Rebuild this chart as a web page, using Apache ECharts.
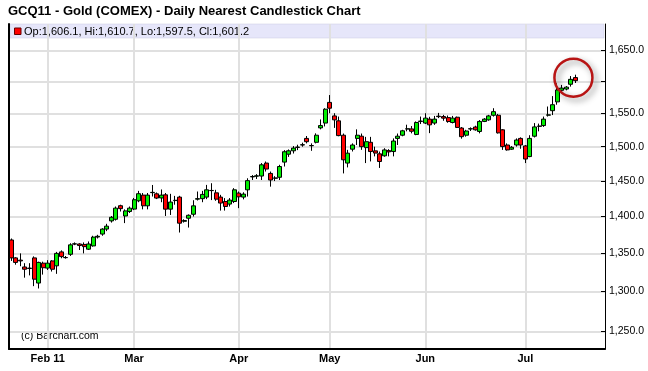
<!DOCTYPE html>
<html><head><meta charset="utf-8">
<script src="https://cdn.jsdelivr.net/npm/echarts@6/dist/echarts.min.js"></script>
<style>html,body{margin:0;padding:0;background:#fff}#c{width:648px;height:371px}</style>
</head><body><div id="c"></div>
<script>
const chartTitle = 'GCQ11 - Gold (COMEX) - Daily Nearest Candlestick Chart';
const credit = '(c) Barchart.com';
const dates = [
'2011-01-20','2011-01-21','2011-01-24','2011-01-25','2011-01-26','2011-01-27','2011-01-28','2011-01-31',
'2011-02-01','2011-02-02','2011-02-03','2011-02-04','2011-02-07','2011-02-08','2011-02-09','2011-02-10','2011-02-11','2011-02-14','2011-02-15','2011-02-16','2011-02-17','2011-02-18','2011-02-22','2011-02-23','2011-02-24','2011-02-25','2011-02-28',
'2011-03-01','2011-03-02','2011-03-03','2011-03-04','2011-03-07','2011-03-08','2011-03-09','2011-03-10','2011-03-11','2011-03-14','2011-03-15','2011-03-16','2011-03-17','2011-03-18','2011-03-21','2011-03-22','2011-03-23','2011-03-24','2011-03-25','2011-03-28','2011-03-29','2011-03-30','2011-03-31',
'2011-04-01','2011-04-04','2011-04-05','2011-04-06','2011-04-07','2011-04-08','2011-04-11','2011-04-12','2011-04-13','2011-04-14','2011-04-15','2011-04-18','2011-04-19','2011-04-20','2011-04-21','2011-04-25','2011-04-26','2011-04-27','2011-04-28','2011-04-29',
'2011-05-02','2011-05-03','2011-05-04','2011-05-05','2011-05-06','2011-05-09','2011-05-10','2011-05-11','2011-05-12','2011-05-13','2011-05-16','2011-05-17','2011-05-18','2011-05-19','2011-05-20','2011-05-23','2011-05-24','2011-05-25','2011-05-26','2011-05-27','2011-05-31',
'2011-06-01','2011-06-02','2011-06-03','2011-06-06','2011-06-07','2011-06-08','2011-06-09','2011-06-10','2011-06-13','2011-06-14','2011-06-15','2011-06-16','2011-06-17','2011-06-20','2011-06-21','2011-06-22','2011-06-23','2011-06-24','2011-06-27','2011-06-28','2011-06-29','2011-06-30',
'2011-07-01','2011-07-05','2011-07-06','2011-07-07','2011-07-08','2011-07-11','2011-07-12','2011-07-13','2011-07-14','2011-07-15','2011-07-18','2011-07-19',
'2011-07-20','2011-07-21','2011-07-22','2011-07-25','2011-07-26','2011-07-27'
];
const opens = [1368,1344,1341,1332,1330.5,1344,1311,1337,1330.5,1340,1333.5,1352,1344.5,1348.8,1362.5,1362.6,1362,1355.6,1360,1372,1376,1382.8,1394,1396.3,1415.1,1400.8,1407,
1410.4,1422,1430,1415,1433.5,1431.8,1426,1430.4,1410.3,1422.3,1427.2,1393.5,1397.7,1403.2,1424.3,1425,1427.2,1436.4,1433.2,1427.2,1421,1417.4,1421,
1432.8,1427.2,1437.5,1456,1457,1457.2,1476,1461,1454,1455.4,1477.4,1489,1494,1499,1502.6,1512.4,1501.5,1506.6,1528.2,1535.5,
1567.2,1546.4,1538.9,1517.2,1476,1496.4,1512.4,1515.7,1498.7,1506.6,1493.9,1489.5,1486.6,1494.3,1492.9,1512.4,1517.2,1526.5,1526.7,1518.3,1538,
1535.5,1541.5,1535.5,1546,1545.4,1543.8,1536.4,1544.4,1528,1517.2,1526.5,1529.5,1522.8,1538,1540.4,1547.4,1547.4,1525.3,1502.6,1496.4,1502.6,1512.4,
1501.2,1485.5,1515.7,1530.5,1531.7,1547.5,1554.4,1568,1586,1588,1595.5,1606.1];
const highs = [1370,1345,1350,1337,1337,1346,1339,1339,1341,1341,1352,1354,1346.5,1363.6,1364.7,1363.6,1364.7,1366,1373.7,1375,1384,1390,1400.8,1414,1416.5,1410,1414,
1426,1436,1433,1433,1444.4,1433.7,1438,1433,1431.8,1428.9,1429,1396.3,1403,1422.8,1435.1,1436,1444.5,1446.9,1437.5,1430.4,1425.8,1425.8,1439.9,
1435.1,1434,1454,1458.6,1460,1476,1478.3,1463.7,1457,1473.5,1495,1496,1501,1503,1506,1516,1505,1520,1541,1558.2,
1578.6,1550.5,1545.4,1519.7,1495.4,1505,1526,1519.7,1514.7,1514.7,1500.1,1492.9,1497.8,1496.4,1512.4,1519.7,1525.3,1533,1531,1538,1545.4,
1550.5,1545,1546.4,1551,1548,1547,1546.4,1545.4,1529.5,1525.3,1529,1531.5,1540,1543,1548,1558.2,1549.4,1526.3,1505,1501,1512.4,1514,
1502.6,1517.2,1535.5,1534.7,1545.4,1560.8,1577,1597,1594.5,1592.7,1608.5,1610.7];
const lows = [1340,1335,1333,1318,1321,1307,1304,1322,1328,1326,1323,1343.5,1343,1346.6,1361,1354.5,1350,1354.5,1359,1370,1373.7,1380,1391.7,1394.5,1407,1391,1405,
1409,1420,1410,1410,1428,1424.4,1420,1400.8,1402.2,1416.5,1378.1,1391.7,1384.9,1400,1422.4,1420,1424.3,1423,1422,1408.3,1408.3,1414,1418.8,
1411.7,1424,1428,1451.5,1453,1451.5,1463.7,1442,1450,1451.5,1471,1485,1490,1495,1500,1505,1494,1505,1526,1530.4,
1550.5,1528.2,1515.6,1461,1469.7,1493,1502.6,1495.4,1476,1478.4,1485.8,1468.9,1485.3,1485.8,1485.8,1502.6,1515.6,1523,1520,1517.2,1534,
1534,1520.3,1532.8,1543,1539,1536,1535,1528,1512,1515,1523.5,1524,1520,1537,1539,1545.4,1519.7,1495.3,1494.3,1495.3,1500.2,1497,
1476,1484.6,1513.8,1523,1529.7,1545.4,1547.7,1563.6,1581,1586,1591.8,1597.5];
const closes = [1344,1338,1340,1329,1330,1316,1338,1331,1337,1329,1350,1345.7,1344.3,1361.4,1362.8,1360.5,1359,1362.6,1371.9,1373,1382.8,1386.8,1399,1411.7,1411,1407.9,1411.7,
1423.5,1432,1415,1430,1433.9,1425.8,1430,1410.3,1420.2,1422.7,1390.9,1394.5,1401.8,1414.9,1425,1431,1437.5,1436.6,1424.3,1418.8,1414,1423,1437.5,
1427.6,1431.4,1450.6,1456.5,1457.5,1473.5,1467.3,1451.5,1454.5,1471,1492.6,1494,1498,1499.5,1503,1507.5,1501.8,1517.2,1531.7,1556.7,
1558.2,1540.4,1516.6,1480.8,1490.5,1502.6,1517.2,1500.1,1507.5,1492.9,1490.6,1478.3,1495.3,1492.4,1508.5,1515.7,1523.8,1526.8,1523.1,1536.4,1538.5,
1543,1532.8,1541.5,1545.3,1543,1537.8,1543,1528.9,1515,1523.5,1527,1525.3,1538,1541.5,1546.4,1552.9,1520.7,1500.2,1495.3,1499.2,1510,1502.6,
1481.9,1512.4,1529.7,1531,1541.5,1548,1563.6,1586.5,1589.5,1591,1603.3,1601.2];
const yTickValues = [1250,1300,1350,1400,1450,1500,1550,1600,1650];
const yLabelValues = [1250,1300,1350,1400,1450,1500,1550,1650];
const monthNames = ['Jan','Feb','Mar','Apr','May','Jun','Jul','Aug'];

const FONT = '"Liberation Sans", Arial, Helvetica, sans-serif';
const fmt = v => Number(v).toLocaleString('en-US',{minimumFractionDigits:1,maximumFractionDigits:1});
const isMonthStart = dates.map((d,i)=> i>0 && d.slice(0,7)!==dates[i-1].slice(0,7));
let firstLabel = true;
const monthLabel = {};
dates.forEach((d,i)=>{ if(isMonthStart[i]){ const m=monthNames[+d.slice(5,7)-1]; monthLabel[i] = firstLabel ? m+' '+d.slice(2,4) : m; firstLabel=false; }});

const candleData = opens.map((o,i)=>[o, closes[i], lows[i], highs[i]]);
const last = opens.length-1;
const legendText = 'Op:'+fmt(opens[last])+', Hi:'+fmt(highs[last])+', Lo:'+fmt(lows[last])+', Cl:'+fmt(closes[last]);

const chart = echarts.init(document.getElementById('c'), null, {renderer:'canvas'});
chart.setOption({
  animation:false,
  backgroundColor:'#fff',
  textStyle:{fontFamily:FONT},
  grid:{left:9, right:43, top:24, bottom:22, containLabel:false},
  xAxis:{type:'category', data:dates, boundaryGap:true,
    axisLine:{onZero:false, lineStyle:{color:'#000', width:2}},
    axisTick:{show:false},
    axisLabel:{interval:(i)=>!!isMonthStart[i], formatter:(v,i)=>monthLabel[i]||'', color:'#000', fontSize:11, fontWeight:'bold', fontFamily:FONT, margin:4},
    splitLine:{show:true, interval:(i)=>!!isMonthStart[i], alignWithLabel:true, lineStyle:{color:'#e0e0e0', width:2}}
  },
  yAxis:[
    {type:'log', position:'right', min:1228.3, max:1693.4, logBase:10,
     axisLine:{show:true, lineStyle:{color:'#000', width:1}},
     axisTick:{show:true, inside:true, length:4, customValues:yTickValues, lineStyle:{color:'#000'}},
     axisLabel:{customValues:yLabelValues, formatter:v=>fmt(v), color:'#000', fontSize:10.5, fontFamily:FONT, margin:4},
     splitLine:{show:true, lineStyle:{color:'#e0e0e0', width:2}}
    },
    {type:'value', position:'left', axisLine:{show:true, onZero:false, lineStyle:{color:'#000', width:2}},
     axisTick:{show:false}, axisLabel:{show:false}, splitLine:{show:false}}
  ],
  graphic:[
    {type:'rect', z:-5, shape:{x:10, y:24, width:594, height:14}, style:{fill:'#e6e6fa', stroke:'#c8c8e0', lineWidth:0.5}, silent:true},
    {type:'text', left:8, top:5, style:{text:chartTitle, font:'bold 13px '+FONT, fill:'#000'}},
    {type:'rect', shape:{x:14.5, y:28, width:6.5, height:6.5}, style:{fill:'#ff0000', stroke:'#600', lineWidth:1}},
    {type:'text', x:24, y:31.5, style:{text:legendText, font:'11px '+FONT, fill:'#000', textVerticalAlign:'middle'}},
    {type:'text', x:21, y:336, style:{text:credit, font:'10.5px '+FONT, fill:'#000', textVerticalAlign:'middle'}}
  ],
  series:[{
    type:'candlestick', data:candleData, barWidth:4.5, yAxisIndex:0,
    itemStyle:{color:'#00ee00', color0:'#ff0000', borderColor:'#000', borderColor0:'#000', borderColorDoji:'#000', borderWidth:1},
    emphasis:{disabled:true},
    markLine:{silent:true, symbol:['none','none'], data:[{yAxis:closes[last]}],
      lineStyle:{opacity:0},
      label:{position:'end', distance:4, formatter:()=>fmt(closes[last]), color:'#fff', backgroundColor:'#000', padding:[1,2,0,2], fontSize:10.5, fontFamily:FONT}},
    markPoint:{silent:true, data:[{coord:[dates[last], closes[last]], symbol:'circle', symbolSize:38, symbolOffset:[-2,-3],
      itemStyle:{color:'rgba(255,255,255,0)', borderColor:'#b81414', borderWidth:2.5, shadowColor:'rgba(0,0,0,0.45)', shadowBlur:6, shadowOffsetX:3, shadowOffsetY:3},
      label:{show:false}}]}
  }]
});
</script></body></html>
